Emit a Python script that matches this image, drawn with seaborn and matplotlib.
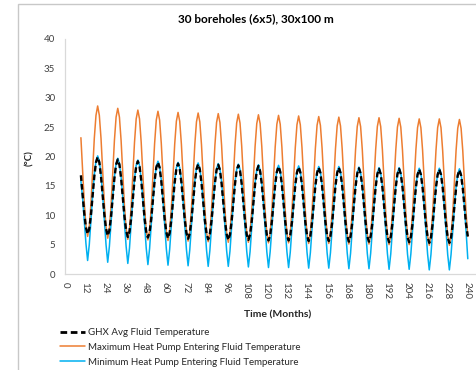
import matplotlib
matplotlib.use("Agg")
import matplotlib.pyplot as plt
import seaborn as sns
from matplotlib.patches import Rectangle
from matplotlib.lines import Line2D

sns.set_theme(style="white")
plt.rcParams['font.family'] = ['Lato', 'DejaVu Sans']

title = "30 boreholes (6x5), 30x100 m"
x_label = "Time (Months)"
y_label = "(°C)"
series_names = ["GHX Avg Fluid Temperature",
                "Maximum Heat Pump Entering Fluid Temperature",
                "Minimum Heat Pump Entering Fluid Temperature"]

# sample times (months, mid-month)
months = [m + 0.5 for m in range(9, 241)]

ghx_avg = [16.8, 13.6, 10.3, 7.9,
    6.8, 7.7, 10.1, 13.4, 16.6, 19.0, 19.9, 19.0, 16.6, 13.4, 10.1, 7.7,
    6.5, 7.4, 9.8, 13.0, 16.3, 18.6, 19.5, 18.6, 16.3, 13.0, 9.8, 7.4,
    6.3, 7.2, 9.5, 12.8, 16.0, 18.3, 19.2, 18.3, 16.0, 12.8, 9.5, 7.2,
    6.2, 7.1, 9.4, 12.6, 15.8, 18.1, 19.0, 18.1, 15.8, 12.6, 9.4, 7.1,
    6.1, 7.0, 9.3, 12.5, 15.6, 17.9, 18.8, 17.9, 15.6, 12.5, 9.3, 7.0,
    6.0, 6.9, 9.2, 12.4, 15.5, 17.8, 18.7, 17.8, 15.5, 12.4, 9.2, 6.9,
    5.9, 6.8, 9.1, 12.3, 15.4, 17.7, 18.6, 17.7, 15.4, 12.3, 9.1, 6.8,
    5.8, 6.7, 9.0, 12.2, 15.3, 17.6, 18.5, 17.6, 15.3, 12.2, 9.0, 6.7,
    5.8, 6.7, 9.0, 12.1, 15.3, 17.5, 18.4, 17.5, 15.3, 12.1, 9.0, 6.7,
    5.7, 6.6, 8.9, 12.0, 15.2, 17.4, 18.3, 17.4, 15.2, 12.0, 8.9, 6.6,
    5.7, 6.6, 8.8, 12.0, 15.1, 17.3, 18.2, 17.3, 15.1, 12.0, 8.8, 6.6,
    5.6, 6.5, 8.8, 11.9, 15.0, 17.2, 18.1, 17.2, 15.0, 11.9, 8.8, 6.5,
    5.6, 6.5, 8.7, 11.9, 15.0, 17.2, 18.1, 17.2, 15.0, 11.9, 8.7, 6.5,
    5.5, 6.4, 8.7, 11.8, 14.9, 17.1, 18.0, 17.1, 14.9, 11.8, 8.7, 6.4,
    5.5, 6.4, 8.6, 11.7, 14.8, 17.0, 17.9, 17.0, 14.8, 11.7, 8.6, 6.4,
    5.4, 6.3, 8.6, 11.7, 14.8, 17.0, 17.9, 17.0, 14.8, 11.7, 8.6, 6.3,
    5.4, 6.3, 8.5, 11.6, 14.7, 16.9, 17.8, 16.9, 14.7, 11.6, 8.5, 6.3,
    5.3, 6.2, 8.5, 11.6, 14.7, 16.9, 17.8, 16.9, 14.7, 11.6, 8.5, 6.2,
    5.3, 6.2, 8.4, 11.5, 14.6, 16.8, 17.7, 16.8, 14.6, 11.5, 8.4, 6.4]

max_hp_eft = [23.2, 17.8, 12.2, 8.2,
    6.4, 8.0, 12.0, 17.5, 23.1, 27.0, 28.6, 27.0, 23.1, 17.5, 12.0, 8.0,
    6.1, 7.7, 11.6, 17.2, 22.7, 26.7, 28.2, 26.7, 22.7, 17.2, 11.6, 7.7,
    5.9, 7.4, 11.4, 16.9, 22.4, 26.4, 27.9, 26.4, 22.4, 16.9, 11.4, 7.4,
    5.8, 7.3, 11.3, 16.8, 22.2, 26.2, 27.7, 26.2, 22.2, 16.8, 11.3, 7.3,
    5.7, 7.2, 11.2, 16.6, 22.1, 26.0, 27.5, 26.0, 22.1, 16.6, 11.2, 7.2,
    5.6, 7.1, 11.1, 16.5, 22.0, 25.9, 27.4, 25.9, 22.0, 16.5, 11.1, 7.1,
    5.5, 7.0, 11.0, 16.4, 21.9, 25.8, 27.3, 25.8, 21.9, 16.4, 11.0, 7.0,
    5.4, 7.0, 10.9, 16.3, 21.8, 25.7, 27.2, 25.7, 21.8, 16.3, 10.9, 7.0,
    5.4, 6.9, 10.8, 16.3, 21.7, 25.6, 27.1, 25.6, 21.7, 16.3, 10.8, 6.9,
    5.3, 6.9, 10.8, 16.2, 21.6, 25.5, 27.0, 25.5, 21.6, 16.2, 10.8, 6.9,
    5.3, 6.8, 10.7, 16.1, 21.5, 25.4, 26.9, 25.4, 21.5, 16.1, 10.7, 6.8,
    5.2, 6.8, 10.6, 16.0, 21.4, 25.3, 26.8, 25.3, 21.4, 16.0, 10.6, 6.8,
    5.2, 6.7, 10.6, 16.0, 21.3, 25.2, 26.7, 25.2, 21.3, 16.0, 10.6, 6.7,
    5.1, 6.7, 10.5, 15.9, 21.2, 25.1, 26.6, 25.1, 21.2, 15.9, 10.5, 6.7,
    5.1, 6.6, 10.5, 15.9, 21.2, 25.1, 26.6, 25.1, 21.2, 15.9, 10.5, 6.6,
    5.0, 6.6, 10.4, 15.8, 21.1, 25.0, 26.5, 25.0, 21.1, 15.8, 10.4, 6.6,
    5.0, 6.5, 10.4, 15.7, 21.1, 24.9, 26.4, 24.9, 21.1, 15.7, 10.4, 6.5,
    4.9, 6.5, 10.3, 15.7, 21.0, 24.9, 26.4, 24.9, 21.0, 15.7, 10.3, 6.5,
    4.9, 6.4, 10.3, 15.6, 21.0, 24.8, 26.3, 24.8, 21.0, 15.6, 10.3, 6.4]

min_hp_eft = [15.8, 13.0, 9.2, 5.2,
    2.3, 5.0, 9.1, 13.3, 16.9, 19.2, 20.1, 19.2, 16.9, 13.3, 9.1, 5.0,
    2.0, 4.7, 8.7, 13.0, 16.5, 18.8, 19.7, 18.8, 16.5, 13.0, 8.7, 4.7,
    1.8, 4.4, 8.5, 12.7, 16.2, 18.5, 19.4, 18.5, 16.2, 12.7, 8.5, 4.4,
    1.6, 4.3, 8.3, 12.5, 16.0, 18.3, 19.2, 18.3, 16.0, 12.5, 8.3, 4.3,
    1.5, 4.2, 8.2, 12.4, 15.9, 18.1, 19.0, 18.1, 15.9, 12.4, 8.2, 4.2,
    1.4, 4.1, 8.1, 12.3, 15.8, 18.0, 18.9, 18.0, 15.8, 12.3, 8.1, 4.1,
    1.3, 4.0, 8.0, 12.2, 15.7, 17.9, 18.8, 17.9, 15.7, 12.2, 8.0, 4.0,
    1.3, 3.9, 7.9, 12.1, 15.6, 17.8, 18.7, 17.8, 15.6, 12.1, 7.9, 3.9,
    1.2, 3.8, 7.8, 12.0, 15.5, 17.7, 18.6, 17.7, 15.5, 12.0, 7.8, 3.8,
    1.1, 3.8, 7.7, 11.9, 15.4, 17.6, 18.5, 17.6, 15.4, 11.9, 7.7, 3.8,
    1.1, 3.7, 7.7, 11.8, 15.3, 17.5, 18.4, 17.5, 15.3, 11.8, 7.7, 3.7,
    1.0, 3.6, 7.6, 11.7, 15.2, 17.4, 18.3, 17.4, 15.2, 11.7, 7.6, 3.6,
    1.0, 3.6, 7.6, 11.7, 15.2, 17.4, 18.3, 17.4, 15.2, 11.7, 7.6, 3.6,
    0.9, 3.5, 7.5, 11.6, 15.1, 17.3, 18.2, 17.3, 15.1, 11.6, 7.5, 3.5,
    0.9, 3.5, 7.4, 11.6, 15.0, 17.2, 18.1, 17.2, 15.0, 11.6, 7.4, 3.5,
    0.8, 3.4, 7.4, 11.5, 15.0, 17.2, 18.1, 17.2, 15.0, 11.5, 7.4, 3.4,
    0.8, 3.4, 7.3, 11.5, 14.9, 17.1, 18.0, 17.1, 14.9, 11.5, 7.3, 3.4,
    0.7, 3.3, 7.3, 11.4, 14.9, 17.1, 18.0, 17.1, 14.9, 11.4, 7.3, 3.3,
    0.7, 3.3, 7.2, 11.4, 14.8, 17.0, 17.9, 17.0, 14.8, 11.4, 7.2, 2.6]

x_ticks = list(range(0, 241, 12))
y_ticks = list(range(0, 41, 5))

c_avg = "#000000"
c_max = "#ED7D31"
c_min = "#00B0F0"
dash = (0, (2.4, 1.3))

fig = plt.figure(figsize=(4.77, 3.70), dpi=100)
fig.patches.append(Rectangle((17.5 / 477, -0.2), 1.5, 1.2 - 3.5 / 370,
                             transform=fig.transFigure, fill=False,
                             edgecolor="#c8c8c8", lw=1.0))

ax = fig.add_axes([65 / 477, 96 / 370, 412 / 477, 235 / 370])
sns.lineplot(x=months, y=max_hp_eft, ax=ax, color=c_max, lw=1.1)
sns.lineplot(x=months, y=min_hp_eft, ax=ax, color=c_min, lw=1.1)
sns.lineplot(x=months, y=ghx_avg, ax=ax, color=c_avg, lw=1.7, linestyle=dash)

ax.set_xlim(0, 246)
ax.set_ylim(0, 40)
ax.set_xticks(x_ticks)
ax.set_xticklabels([str(t) for t in x_ticks], rotation=-90)
ax.set_yticks(y_ticks)
ax.tick_params(axis="both", length=0, labelsize=7, colors="#404040")
ax.tick_params(axis="y", pad=7)
ax.tick_params(axis="x", pad=5.5)
for s in ["top", "right"]:
    ax.spines[s].set_visible(False)
for s in ["left", "bottom"]:
    ax.spines[s].set_color("#d9d9d9")
    ax.spines[s].set_linewidth(0.9)
ax.grid(False)
ax.set_xlabel("")
ax.set_ylabel("")

fig.text(256 / 477, 1 - 19 / 370, title, ha="center", va="center",
         fontsize=8.5, fontweight="bold", color="#000000")
fig.text(30 / 477, 1 - 158 / 370, y_label, ha="center", va="center",
         rotation=90, fontsize=7, fontweight="bold")
fig.text(278 / 477, 1 - 315 / 370, x_label, ha="center", va="center",
         fontsize=7.5, fontweight="bold")

handles = [Line2D([], [], color=c_avg, lw=2.0, linestyle=dash),
           Line2D([], [], color=c_max, lw=1.1),
           Line2D([], [], color=c_min, lw=1.1)]
fig.legend(handles, series_names, loc="upper left",
           bbox_to_anchor=(60 / 477, 1 - 328 / 370), frameon=False,
           fontsize=7, handlelength=2.6, handletextpad=0.3,
           labelspacing=0.6, borderaxespad=0, borderpad=0)

fig.savefig("out.png", dpi=100)
